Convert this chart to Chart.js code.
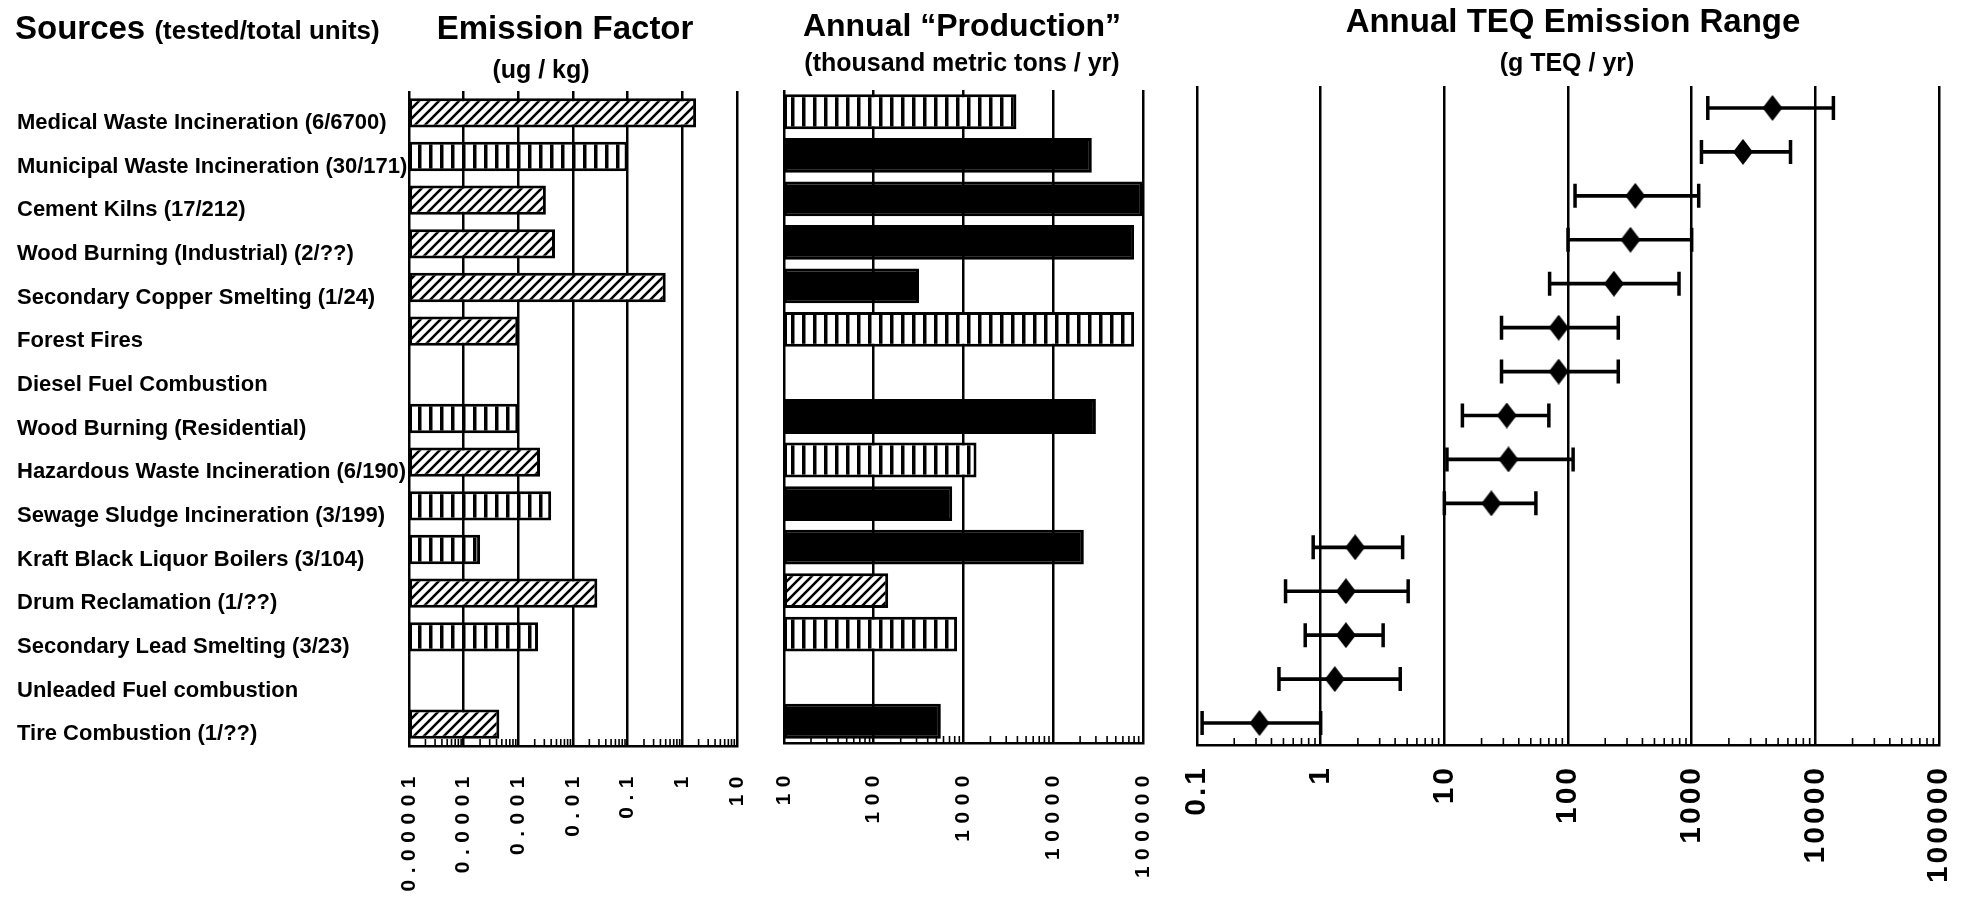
<!DOCTYPE html>
<html>
<head>
<meta charset="utf-8">
<script src="https://cdn.jsdelivr.net/npm/chart.js@4.4.1/dist/chart.umd.min.js"></script>
<style>
  html, body { margin: 0; padding: 0; background: #fff; }
  #page { position: relative; width: 1966px; height: 908px; overflow: hidden;
          font-family: "Liberation Sans", Arial, sans-serif; font-weight: bold; color: #000; }
  canvas { position: absolute; top: 0; }
  .t { position: absolute; white-space: nowrap; line-height: 1; }
  .c { transform: translateX(-50%); }
</style>
</head>
<body>
<div id="page">
  <canvas id="ef" width="786" height="908" style="left:0"></canvas>
  <canvas id="prod" width="436" height="908" style="left:758px"></canvas>
  <canvas id="teq" width="818" height="908" style="left:1177px"></canvas>

  <div class="t" style="left:15px;top:11px;font-size:33px">Sources <span style="font-size:26px">(tested/total units)</span></div>
  <div class="t c" style="left:565px;top:11px;font-size:33px">Emission Factor</div>
  <div class="t c" style="left:541px;top:57px;font-size:25px">(ug / kg)</div>
  <div class="t c" style="left:962px;top:9px;font-size:32px">Annual “Production”</div>
  <div class="t c" style="left:962px;top:50px;font-size:25px">(thousand metric tons / yr)</div>
  <div class="t c" style="left:1573px;top:4px;font-size:33px">Annual TEQ Emission Range</div>
  <div class="t c" style="left:1567px;top:50px;font-size:25px">(g TEQ / yr)</div>
</div>

<script>
// ---- sources (rows, top to bottom) ----
const sources = [
  'Medical Waste Incineration (6/6700)',
  'Municipal Waste Incineration (30/171)',
  'Cement Kilns (17/212)',
  'Wood Burning (Industrial) (2/??)',
  'Secondary Copper Smelting (1/24)',
  'Forest Fires',
  'Diesel Fuel Combustion',
  'Wood Burning (Residential)',
  'Hazardous Waste Incineration (6/190)',
  'Sewage Sludge Incineration (3/199)',
  'Kraft Black Liquor Boilers (3/104)',
  'Drum Reclamation (1/??)',
  'Secondary Lead Smelting (3/23)',
  'Unleaded Fuel combustion',
  'Tire Combustion (1/??)'
];

// ---- emission factor, ug / kg ----
const emissionFactor = [1.8, 0.1, 0.0032, 0.0047, 0.5, 0.001, null, 0.001, 0.0025, 0.004, 0.0002, 0.028, 0.0023, null, 0.00045];
const emissionFactorFill = ['hatch', 'stripe', 'hatch', 'hatch', 'hatch', 'hatch', null, 'stripe', 'hatch', 'stripe', 'stripe', 'hatch', 'stripe', null, 'hatch'];

// ---- annual production, thousand metric tons / yr ----
const production = [3900, 27000, 100000, 80000, 320, 80000, null, 30000, 1400, 750, 22000, 145, 850, null, 560];
const productionFill = ['stripe', 'solid', 'solid', 'solid', 'solid', 'stripe', null, 'solid', 'stripe', 'solid', 'solid', 'hatch', 'stripe', null, 'solid'];

// ---- annual TEQ emission range, g TEQ / yr ----
const teqLow  = [1350, 1200, 114, 100, 71, 29, 29, 14, 10.5, 10, 0.87, 0.52, 0.75, 0.46, 0.11];
const teqMid  = [4500, 2600, 350, 320, 235, 84, 84, 32, 33, 24, 1.9, 1.6, 1.6, 1.3, 0.32];
const teqHigh = [14000, 6300, 1140, 1000, 790, 255, 255, 70, 110, 55, 4.6, 5.1, 3.2, 4.4, 1.0];

// ---- axis ticks ----
const efTicks = [0.00001, 0.0001, 0.001, 0.01, 0.1, 1, 10];
const efTickLabels = ['0.00001', '0.0001', '0.001', '0.01', '0.1', '1', '10'];
const prodTicks = [10, 100, 1000, 10000, 100000];
const prodTickLabels = ['10', '100', '1000', '10000', '100000'];
const teqTicks = [0.1, 1, 10, 100, 1000, 10000, 100000];
const teqTickLabels = ['0.1', '1', '10', '100', '1000', '10000', '100000'];

const FONT = '"Liberation Sans", Arial, sans-serif';
const INK = '#000';

// fill patterns for the bars
function makeHatch() {
  const c = document.createElement('canvas');
  c.width = 10; c.height = 10;
  const g = c.getContext('2d');
  g.fillStyle = '#fff'; g.fillRect(0, 0, 10, 10);
  g.strokeStyle = INK; g.lineWidth = 2.6;
  g.beginPath();
  g.moveTo(-2, 12); g.lineTo(12, -2);
  g.moveTo(-2, 2); g.lineTo(2, -2);
  g.moveTo(8, 12); g.lineTo(12, 8);
  g.stroke();
  return g.createPattern(c, 'repeat');
}
function makeStripe() {
  const c = document.createElement('canvas');
  c.width = 11; c.height = 4;
  const g = c.getContext('2d');
  g.fillStyle = '#fff'; g.fillRect(0, 0, 11, 4);
  g.fillStyle = INK; g.fillRect(0, 0, 3.5, 4);
  return g.createPattern(c, 'repeat');
}
const fills = { hatch: makeHatch(), stripe: makeStripe(), solid: INK };
const fillFor = k => (k ? fills[k] : 'transparent');

// diamond marker for the central estimate
function makeDiamond() {
  const c = document.createElement('canvas');
  c.width = 20; c.height = 26;
  const g = c.getContext('2d');
  g.fillStyle = INK;
  g.beginPath();
  g.moveTo(10, 0); g.lineTo(20, 13); g.lineTo(10, 26); g.lineTo(0, 13);
  g.closePath(); g.fill();
  return c;
}
const diamond = makeDiamond();

// small minor ticks standing on the bottom axis (2..9 of every decade)
const minorTicks = {
  id: 'minorTicks',
  afterDraw(chart) {
    const s = chart.scales.x, area = chart.chartArea, ctx = chart.ctx;
    ctx.save();
    ctx.strokeStyle = INK; ctx.lineWidth = 1.6;
    const e0 = Math.round(Math.log10(s.min)), e1 = Math.round(Math.log10(s.max));
    for (let e = e0; e < e1; e++) {
      for (let k = 2; k <= 9; k++) {
        const px = s.getPixelForValue(k * Math.pow(10, e));
        ctx.beginPath();
        ctx.moveTo(px, area.bottom);
        ctx.lineTo(px, area.bottom - 7);
        ctx.stroke();
      }
    }
    ctx.restore();
  }
};

// letter-spaced, rotated value labels on the bottom axis
const spacedTicks = {
  id: 'spacedTicks',
  beforeDraw(chart, args, opts) {
    const s = chart.scales.x;
    if (s._spaced) return;
    const orig = s.drawLabels.bind(s);
    s.drawLabels = function (area) {
      const c = this.ctx;
      c.save();
      c.letterSpacing = (opts.px || 0) + 'px';
      orig(area);
      c.restore();
    };
    s._spaced = true;
  }
};

function logAxis(min, max, ticks, labels, fontSize, pad, bottom) {
  return {
    type: 'logarithmic', min, max,
    afterBuildTicks: s => { s.ticks = ticks.map(v => ({ value: v })); },
    afterFit: s => { s.height = 908 - bottom; },
    grid: { color: INK, lineWidth: 2.5, drawTicks: false },
    border: { display: true, color: INK, width: 2.5 },
    ticks: {
      autoSkip: false, minRotation: 90, maxRotation: 90, padding: pad, color: INK,
      font: { family: FONT, size: fontSize, weight: 'bold' },
      callback: (v, i) => labels[i]
    }
  };
}

const common = {
  indexAxis: 'y', responsive: false, animation: false, events: [],
  plugins: { legend: { display: false }, tooltip: { enabled: false } }
};

// Emission factor
new Chart(document.getElementById('ef'), {
  type: 'bar',
  data: {
    labels: sources,
    datasets: [{
      data: emissionFactor,
      backgroundColor: emissionFactorFill.map(fillFor),
      borderColor: INK, borderWidth: 3, borderSkipped: false,
      barPercentage: 0.67, categoryPercentage: 1
    }]
  },
  options: {
    ...common,
    layout: { padding: { left: 17, top: 91, right: 0, bottom: 0 } },
    plugins: { ...common.plugins, spacedTicks: { px: 6.5 } },
    scales: {
      x: logAxis(1e-5, 10, efTicks, efTickLabels, 21, 24, 746),
      y: {
        grid: { display: false }, border: { display: false },
        afterFit: s => { s.width = 409 - 17; },
        ticks: {
          autoSkip: false, crossAlign: 'far', padding: 0, labelOffset: 10, color: INK,
          font: { family: FONT, size: 22, weight: 'bold' }
        }
      }
    }
  },
  plugins: [minorTicks, spacedTicks]
});

// Annual production
new Chart(document.getElementById('prod'), {
  type: 'bar',
  data: {
    labels: sources,
    datasets: [{
      data: production,
      backgroundColor: productionFill.map(fillFor),
      borderColor: INK, borderWidth: 3, borderSkipped: false,
      barPercentage: 0.8, categoryPercentage: 1
    }]
  },
  options: {
    ...common,
    layout: { padding: { left: 0, top: 90, right: 0, bottom: 0 } },
    plugins: { ...common.plugins, spacedTicks: { px: 6.5 } },
    scales: {
      x: logAxis(10, 100000, prodTicks, prodTickLabels, 21, 26, 743),
      y: { display: false }
    }
  },
  plugins: [minorTicks, spacedTicks]
});

// Annual TEQ emission range: bar = range, caps = low/high, diamond = central estimate
new Chart(document.getElementById('teq'), {
  type: 'bar',
  data: {
    labels: sources,
    datasets: [
      {
        type: 'bar',
        data: teqLow.map((lo, i) => [lo, teqHigh[i]]),
        backgroundColor: INK, borderWidth: 0, barThickness: 3
      },
      {
        type: 'line', data: teqLow, showLine: false,
        pointStyle: 'line', pointRotation: 90, pointRadius: 12,
        pointBorderWidth: 3.5, pointBorderColor: INK
      },
      {
        type: 'line', data: teqHigh, showLine: false,
        pointStyle: 'line', pointRotation: 90, pointRadius: 12,
        pointBorderWidth: 3.5, pointBorderColor: INK
      },
      {
        type: 'line', data: teqMid, showLine: false,
        pointStyle: diamond, pointRadius: 12
      }
    ]
  },
  options: {
    ...common,
    layout: { padding: { left: 0, top: 86, right: 0, bottom: 0 } },
    plugins: { ...common.plugins, spacedTicks: { px: 3 } },
    scales: {
      x: logAxis(0.1, 100000, teqTicks, teqTickLabels, 30, 20, 745),
      y: { display: false }
    }
  },
  plugins: [minorTicks, spacedTicks]
});
</script>
</body>
</html>
